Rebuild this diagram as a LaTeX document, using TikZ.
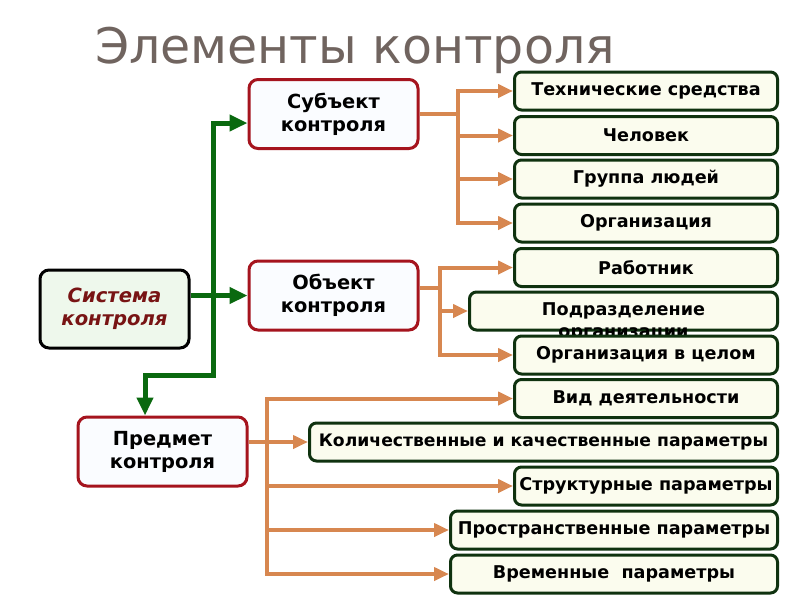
\documentclass[tikz,border=0pt]{standalone}
\usepackage{fontspec}
\setmainfont{DejaVu Sans}
\usetikzlibrary{arrows.meta}

\definecolor{titlegray}{RGB}{112,100,95}
\definecolor{boxred}{RGB}{165,20,30}
\definecolor{boxgreen}{RGB}{15,50,15}
\definecolor{sysred}{RGB}{120,20,20}
\definecolor{sysfill}{RGB}{238,248,236}
\definecolor{subjfill}{RGB}{250,252,255}
\definecolor{itemfill}{RGB}{251,252,238}
\definecolor{arrgreen}{RGB}{10,105,15}
\definecolor{arrorange}{RGB}{215,135,80}

\begin{document}
\begin{tikzpicture}[x=1pt,y=-1pt,
  gtip/.tip={Triangle[length=18pt,width=16pt]},otip/.tip={Triangle[length=15pt,width=13pt]},
  bigbox/.style={draw=boxred,line width=3pt,rounded corners=9pt,fill=subjfill,minimum width=169pt,minimum height=69pt,align=center,font=\fontsize{19.4}{23}\selectfont\bfseries},
  itembox/.style={draw=boxgreen,line width=3pt,rounded corners=7pt,fill=itemfill,minimum height=38pt,inner sep=0pt,anchor=east,font=\fontsize{17.6}{20}\selectfont\bfseries},
  gline/.style={draw=arrgreen,line width=5pt},oline/.style={draw=arrorange,line width=4pt},oarrow/.style={oline,-otip}]
\fill[white] (0,0) rectangle (800,600);
\node[anchor=base,text=titlegray,font=\fontsize{49}{58}\selectfont] (title) at (355,63) {Элементы контроля};
% left column
\node[bigbox,draw=black,fill=sysfill,minimum width=149pt,minimum height=78pt,text=sysred,font=\fontsize{19.6}{23}\selectfont\bfseries\itshape] (sys) at (114.5,309) {Система\\контроля};
\node[bigbox] (subj) at (333.5,114) {Субъект\\контроля};
\node[bigbox] (obj) at (333.5,295.5) {Объект\\контроля};
\node[bigbox] (pred) at (162.5,451.5) {Предмет\\контроля};
% right column
\foreach \n/\w/\y/\t in {s1/263/91/Технические средства,s2/263/135.5/Человек,s3/263/179/Группа людей,s4/263/223/Организация,o1/263/267.5/Работник,o2/308/311/Подразделение}{\node[itembox,minimum width=\w pt] (\n) at (779,\y){\t};}
\node[anchor=base,font=\fontsize{17.6}{20}\selectfont\bfseries] (o2b) at ([yshift=-22pt]o2.base) {организации};
\foreach \n/\w/\y/\t in {o3/263/355/Организация в целом,p1/263/398.5/Вид деятельности,p2/468/442/\fontsize{17.2}{20}\selectfont Количественные и качественные параметры,p3/263/486/Структурные параметры,p4/327/530/Пространственные параметры,p5/327/574/Временные~~параметры}{\node[itembox,minimum width=\w pt] (\n) at (779,\y){\t};}
% green arrows
\coordinate (gt) at (213,375);\coordinate (gb) at (145,375);
\draw[gline,-gtip] (sys.east|-obj.west)--(obj.west);
\draw[gline,gtip-gtip] ([yshift=-9pt]subj.west)-|(gt)--(gb)--(gb|-pred.north);
% orange arrows
\coordinate (st) at (458,0);\coordinate (ot) at (440,0);\coordinate (pt) at (267,0);
\coordinate (os) at ([yshift=8pt]obj.east);
\foreach \n in {s1,s2,s3,s4}{\draw[oarrow] (subj.east)--(st|-subj.east)|-(\n.west);}
\foreach \n in {o1,o2,o3}{\draw[oarrow] (os)--(ot|-os)|-(\n.west);}
\draw[oline,line cap=rect] (pt|-p1.west)--(pt|-p5.west);
\draw[oarrow] (pred.east|-p2.west)--(p2.west);
\foreach \n in {p1,p3,p4,p5}{\draw[oarrow] (pt|-\n.west)--(\n.west);}
\end{tikzpicture}
\end{document}
